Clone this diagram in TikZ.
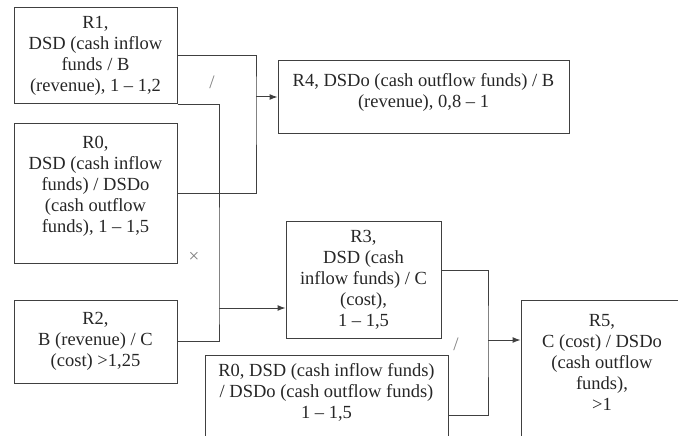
\documentclass[tikz,border=0pt]{standalone}
\usepackage{fontspec}
\setmainfont{Liberation Serif}
\newfontfamily\diagfont{Liberation Serif}
\usetikzlibrary{positioning, arrows.meta}

\tikzset{
  box/.style={draw=black!75, line width=1pt, inner sep=0pt, align=center,
    font=\diagfont\fontsize{18.5}{21}\selectfont, text=black!85},
  boxtext/.style={inner sep=0pt, align=center, font=\diagfont\fontsize{18.5}{21}\selectfont, text=black!85},
  sign/.style={inner sep=0pt, font=\diagfont\fontsize{19}{21}\selectfont, text=black!50},
  arr/.style={-{Latex[length=8pt, width=6pt]}}
}

\begin{document}
\begin{tikzpicture}[x=1pt, y=-1pt, line width=1pt, draw=black!75]
      \useasboundingbox (0,0) rectangle (678,436);

      \node[box, minimum width=163, minimum height=96] (R1) at (95.5,56) {R1,\\DSD (cash inflow\\funds / B\\(revenue), 1 – 1,2};
      \node[box, minimum width=163, minimum height=140] (R0a) at (95.5,193) {};
      \node[boxtext] (R0at) at (95.5,186) {R0,\\DSD (cash inflow\\funds) / DSDo\\(cash outflow\\funds), 1 – 1,5};
      \node[box, minimum width=163, minimum height=83] (R2) at (95.5,341.5) {R2,\\B (revenue) / C\\(cost) >1,25};
      \node[box, minimum width=291, minimum height=72] (R4) at (423.5,97) {};
      \node[boxtext] (R4t) at (423.5,92) {R4, DSDo (cash outflow funds) / B\\(revenue), 0,8 – 1};
      \node[box, minimum width=155, minimum height=117] (R3) at (363.5,279.5) {R3,\\DSD (cash\\inflow funds) / C\\(cost),\\1 – 1,5};
      \node[box, minimum width=243, minimum height=120] (R0b) at (326.5,415) {};
      \node[boxtext] (R0bt) at (326.5,392) {R0, DSD (cash inflow funds)\\/ DSDo (cash outflow funds)\\1 – 1,5};
      \node[box, minimum width=162, minimum height=140] (R5) at (602,370) {};
      \node[boxtext] (R5t) at (602,362) {R5,\\C (cost) / DSDo\\(cash outflow\\funds),\\>1};

      \coordinate (J1) at (256,97);
      \coordinate (J2) at (219,308);
      \coordinate (J3) at (488,340);

      \draw (R1.east) -| (J1) |- (R0a.east);
      \draw[arr] (J1) -- (R4.west);
      \draw (R1.south east) -| (J2) |- (R2.east);
      \draw[arr] (J2) -- (R3.west |- J2);
      \draw ([yshift=9pt]R3.east) -| (J3) |- (R0b.east);
      \draw[arr] (J3) -- (R5.west |- J3);

      \node[sign] (S1) at (212,82) {/};
      \node[sign] (S2) at (194,257) {×};
      \node[sign] (S3) at (456,344) {/};

    \end{tikzpicture}
\end{document}
